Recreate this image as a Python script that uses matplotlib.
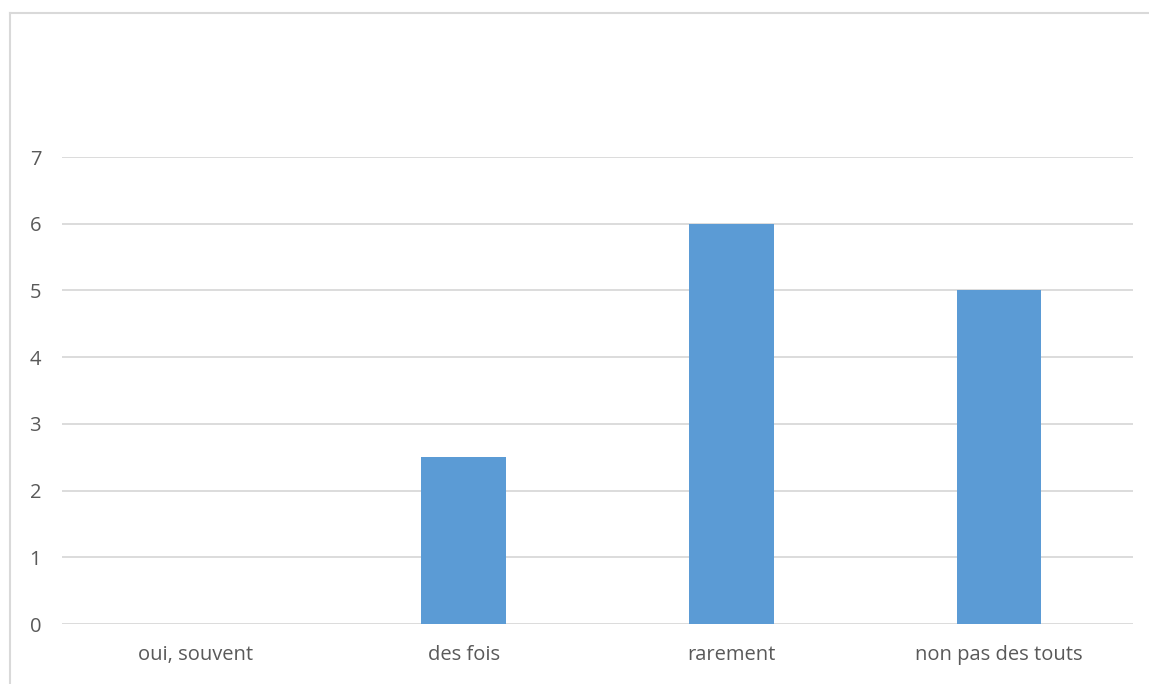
import matplotlib
matplotlib.use("Agg")
import matplotlib.pyplot as plt
from matplotlib.lines import Line2D

categories = ["oui, souvent", "des fois", "rarement", "non pas des touts"]
values = [0, 2.5, 6, 5]
y_ticks = [0, 1, 2, 3, 4, 5, 6, 7]

W, H = 1149, 684
fig = plt.figure(figsize=(W / 100, H / 100), dpi=100)
fig.patch.set_facecolor("white")

# chart frame: only the left and top edges fall inside the canvas
fx, fy = 10 / W, (H - 13) / H
fig.add_artist(Line2D([fx, fx], [-0.1, fy], transform=fig.transFigure,
                      color="#d9d9d9", linewidth=1.5))
fig.add_artist(Line2D([fx, 1.1], [fy, fy], transform=fig.transFigure,
                      color="#d9d9d9", linewidth=1.5))

ax = fig.add_axes([62 / W, (H - 624) / H, (1133 - 62) / W, (624 - 157) / H])
x = range(len(categories))
ax.bar(x, values, width=0.315, color="#5b9bd5", zorder=3)

ax.set_xlim(-0.5, len(categories) - 0.5)
ax.set_ylim(0, 7)
ax.set_yticks(y_ticks)
ax.set_xticks(list(x))
ax.set_xticklabels(categories)
ax.yaxis.grid(True, color="#d9d9d9", linewidth=1.3, zorder=0)
ax.set_axisbelow(True)
for s in ax.spines.values():
    s.set_visible(False)
ax.tick_params(axis="both", length=0, labelsize=14.5, labelcolor="#595959")
ax.tick_params(axis="y", pad=15)
ax.tick_params(axis="x", pad=15)
for lbl in ax.get_xticklabels() + ax.get_yticklabels():
    lbl.set_fontfamily("Open Sans")

fig.savefig("out.png", dpi=100)
